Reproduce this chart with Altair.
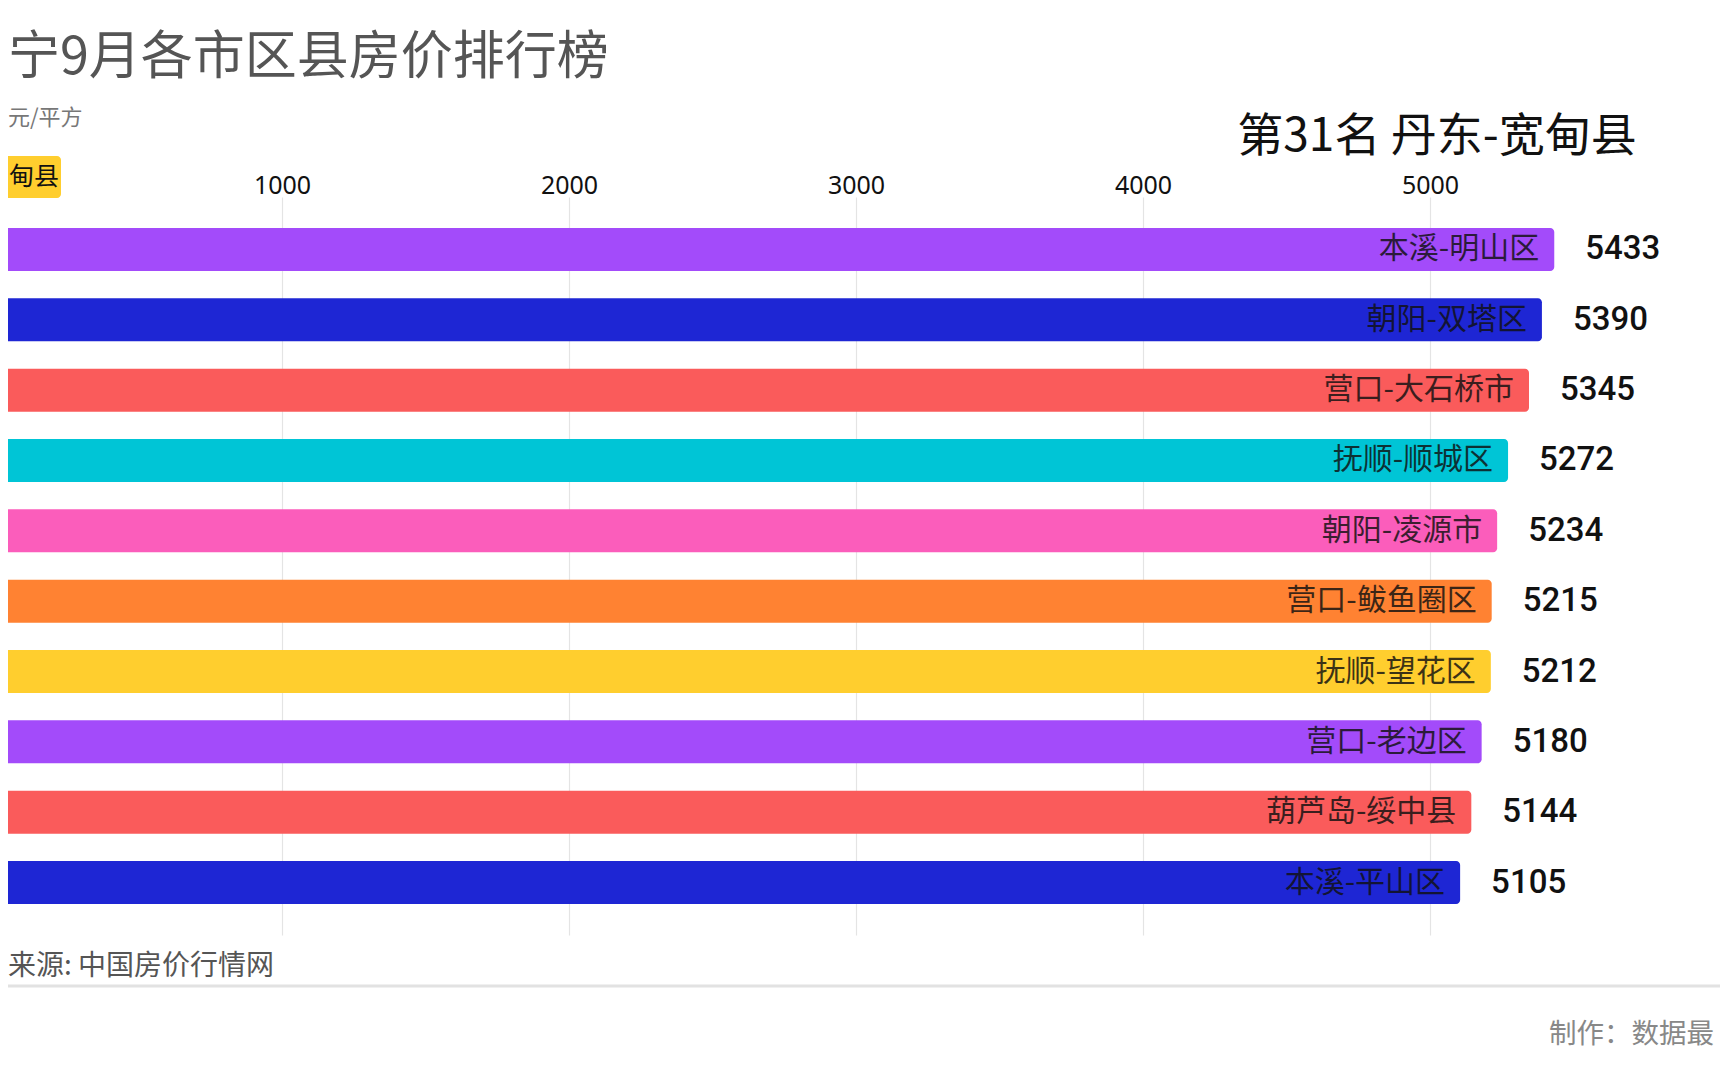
import altair as alt
import pandas as pd

# ---- data ----
names = ["本溪-明山区", "朝阳-双塔区", "营口-大石桥市", "抚顺-顺城区", "朝阳-凌源市",
         "营口-鲅鱼圈区", "抚顺-望花区", "营口-老边区", "葫芦岛-绥中县", "本溪-平山区"]
prices = [5433, 5390, 5345, 5272, 5234, 5215, 5212, 5180, 5144, 5105]
colors = ["#A34BFA", "#1E26D4", "#FA5B5B", "#00C5D6", "#FB5DBB",
          "#FF8232", "#FFCE2E", "#A34BFA", "#FA5B5B", "#1E26D4"]
ticks = [1000, 2000, 3000, 4000, 5000]

title_text = "宁9月各市区县房价排行榜"
unit_text = "元/平方"
current_tag = "甸县"
rank_text = "第31名 丹东-宽甸县"
source_text = "来源: 中国房价行情网"
maker_text = "制作：数据最"

df = pd.DataFrame({"name": names, "price": prices, "color": colors})

W = 1712
H = 738
CJK = "Noto Sans CJK SC"

x = alt.X(
    "price:Q",
    scale=alt.Scale(domain=[45.3, 6010.5], nice=False, zero=False),
    axis=alt.Axis(orient="top", values=ticks, format="d", title=None, domain=False,
                  ticks=False, labelFontSize=25, labelColor="#111111",
                  labelFont="Noto Sans", labelPadding=-1, grid=True,
                  gridColor="#e4e4e4", gridWidth=1.2),
)
y = alt.Y("name:N", sort=names,
          scale=alt.Scale(paddingInner=0.389, paddingOuter=0.44), axis=None)

base = alt.Chart(df)

bars = base.mark_bar(clip=True, cornerRadius=4).encode(
    x=x, x2=alt.datum(0), y=y, color=alt.Color("color:N", scale=None)
)

bar_labels = base.mark_text(
    align="right", baseline="middle", dx=-15, fontSize=30, font=CJK,
    color="#111111", opacity=0.82
).encode(x=x, y=y, text="name:N")

value_labels = base.mark_text(
    align="left", baseline="middle", dx=31, fontSize=33, font="Roboto",
    fontWeight=500, color="#111111"
).encode(x=x, y=y, text="price:Q")


def note(txt, xv, yv, size, color, align="left", font=CJK, weight="normal"):
    return alt.Chart(pd.DataFrame({"t": [txt]})).mark_text(
        align=align, baseline="middle", fontSize=size, font=font,
        color=color, fontWeight=weight
    ).encode(text="t:N", x=alt.value(xv), y=alt.value(yv))


title = note(title_text, 0, -139, 52, "#555555")
unit = note(unit_text, 0, -79, 22, "#777777")
tag_box = alt.Chart(pd.DataFrame({"t": [current_tag]})).mark_rect(
    color="#FFCE2E", cornerRadius=4
).encode(x=alt.value(-12), x2=alt.value(53), y=alt.value(-41), y2=alt.value(1))
tag_text = note(current_tag, 26, -20, 25, "#111111", align="center")
rank = note(rank_text, 1429, -60, 46, "#111111", align="center")
source = note(source_text, 0, 770, 28, "#555555")
sep = alt.Chart(pd.DataFrame({"t": [0]})).mark_rule(color="#e2e2e2", strokeWidth=3).encode(
    x=alt.value(-10), x2=alt.value(W + 10), y=alt.value(789)
)
maker = note(maker_text, 1541, 838, 27.5, "#888888")

chart = alt.layer(
    bars, bar_labels, value_labels, title, unit, tag_box, tag_text, rank, source, sep, maker
).properties(
    width=W,
    height=H,
    autosize=alt.AutoSizeParams(type="none"),
    padding={"left": 0, "top": 189, "right": 0, "bottom": 137},
    background="white",
).configure_view(stroke=None)

chart.save("out.html", embed_options={"renderer": "svg", "actions": False})
